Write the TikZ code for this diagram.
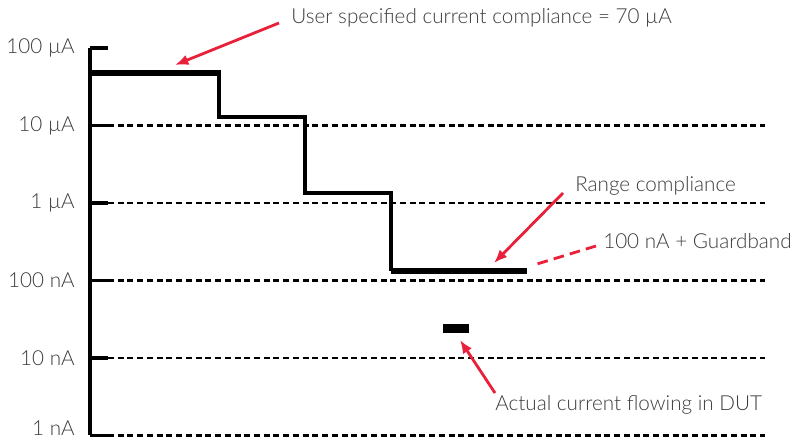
\documentclass[tikz,border=0pt]{standalone}
\usepackage{fontspec}
\setmainfont{Lato Light}
\usetikzlibrary{arrows.meta,calc}
\definecolor{callred}{HTML}{E8203A}
\definecolor{txtgray}{HTML}{3C3C3C}

\begin{document}
\begin{tikzpicture}[x=0.75pt, y=-0.75pt, line join=miter, >=Latex]
\tikzset{axis/.style={line width=2.3pt}, grid/.style={line width=1.6pt, dash pattern=on 4.5pt off 2.8pt},
  stair/.style={line width=2.3pt}, band/.style={line width=3.9pt},
  callout/.style={-{Latex[length=10pt,width=8pt]}, line width=2.1pt, callred},
  lbl/.style={font=\fontsize{15.5}{18}\selectfont, text=txtgray, inner sep=0pt}}
\useasboundingbox (0,0) rectangle (796,441);

% levels (px)
\coordinate (L0) at (90,48);
\coordinate (L1) at (90,125.5);
\coordinate (L2) at (90,203);
\coordinate (L3) at (90,280.5);
\coordinate (L4) at (90,358);
\coordinate (L5) at (90,435.5);

% axis + decades
\draw[axis] (L0) -- (L5);
\foreach \i/\t in {0/100 µA,1/10 µA,2/1 µA,3/100 nA,4/10 nA}{
  \draw[axis] (L\i) -- ++(18,0);
  \node[lbl, anchor=east] (Y\i) at ($(L\i)+(-15,0)$) {\t};
}
\draw[axis] (L5) -- ++(18,0);
\node[lbl, anchor=east] (Y5) at ($(L5)+(-15,-7)$) {1 nA};
\foreach \i in {1,...,5}{
  \draw[grid] ($(L\i)+(18,0)$) -- ($(L\i)+(675,0)$);
}

% compliance steps
\coordinate (S1) at (90,73);
\coordinate (S2) at (219,73);
\coordinate (S3) at (219,117);
\coordinate (S4) at (305,117);
\coordinate (S5) at (305,193);
\coordinate (S6) at (391,193);
\coordinate (S7) at (391,271);
\coordinate (S8) at (527,271);
\draw[stair] (S2) -- (S3) -- (S4) -- (S5) -- (S6) -- (S7);
\draw[band] (S1) -- ($(S2)+(1.5,0)$);
\draw[band] (S7) -- (S8);

% DUT current
\fill (443,324) rectangle (469,333);

% labels
\node[lbl, anchor=west] (usr) at (291,18) {User specified current compliance = 70 µA};
\node[lbl, anchor=west] (rng) at (575,186) {Range compliance};
\node[lbl, anchor=west] (gb)  at (603,241) {100 nA + Guardband};
\node[lbl, anchor=west] (act) at (495,405) {Actual current flowing in DUT};

% callouts
\coordinate (A1) at (279,23);  \coordinate (B1) at (175,65);
\coordinate (A2) at (563,193); \coordinate (B2) at (494,263);
\coordinate (A3) at (495,393); \coordinate (B3) at (460,340);
\coordinate (A4) at (596,246); \coordinate (B4) at (537,264);
\draw[callout] (A1) -- (B1);
\draw[callout] (A2) -- (B2);
\draw[callout] (A3) -- (B3);
\draw[line width=2.1pt, callred, dash pattern=on 8pt off 4.6pt] (A4) -- (B4);
\end{tikzpicture}
\end{document}
